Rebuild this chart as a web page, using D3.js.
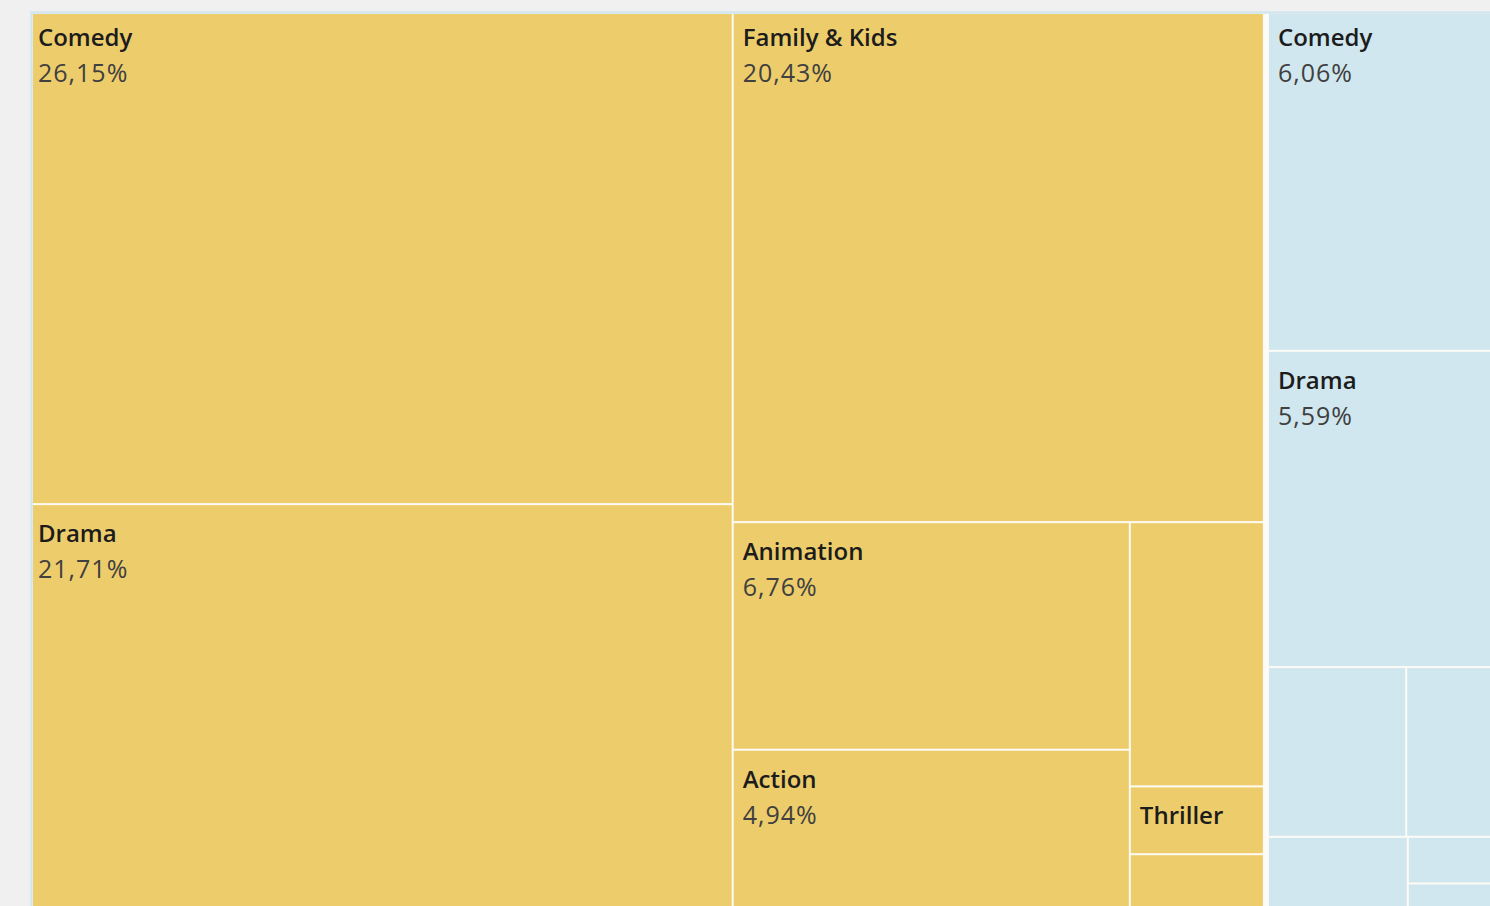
<!DOCTYPE html>
<html>
<head>
<meta charset="utf-8">
<script src="https://cdn.jsdelivr.net/npm/d3@7"></script>
<style>
  html, body { margin: 0; padding: 0; background: #f0f0f0; overflow: hidden; }
  svg { display: block; }
</style>
</head>
<body>
<svg id="chart" width="1490" height="906"></svg>
<script>
// Share of titles by genre (%), split by content type
const movieGenres = ["Comedy", "Drama", "Family & Kids", "Animation", "Action", "Documentary", "Thriller", "Science Fiction"];
const movieShares = [26.15, 21.71, 20.43, 6.76, 4.94, 2.65, 0.68, 0.62];

const showGenres = ["Comedy", "Drama", "Crime & Mystery", "Documentary", "Science Fiction", "Reality TV", "Stand-Up Comedy"];
const showShares = [6.06, 5.59, 1.78, 1.22, 0.84, 0.33, 0.23];

const typeNames = ["Movie", "TV Show"];
const typeColors = ["#edcd6b", "#d0e7ef"];

const svg = d3.select("#chart");

// Treemap frame: the view shows it from (33,14); the layout itself starts a little earlier
const frame = { x: 33, y: 14 };
const origin = { x: 29, y: 9 };
const size = [1471, 906];

const fmt = d3.formatLocale({ decimal: ",", thousands: ".", grouping: [3], currency: ["", "€"] }).format(".2f");

const data = {
  name: "all",
  children: [
    { name: typeNames[0], color: typeColors[0], children: movieGenres.map((g, i) => ({ name: g, value: movieShares[i] })) },
    { name: typeNames[1], color: typeColors[1], children: showGenres.map((g, i) => ({ name: g, value: showShares[i] })) }
  ]
};

const root = d3.hierarchy(data)
  .sum(d => d.value || 0)
  .sort((a, b) => b.value - a.value);

d3.treemap()
  .tile(d3.treemapSquarify)
  .size(size)
  .paddingInner(d => d.depth === 0 ? 6 : 2)
  .round(false)(root);

svg.append("defs").append("clipPath").attr("id", "view")
  .append("rect")
  .attr("x", frame.x).attr("y", frame.y)
  .attr("width", 1490 - frame.x).attr("height", 906 - frame.y);

// light frame edge
svg.append("rect")
  .attr("x", frame.x - 1.5).attr("y", frame.y - 1.5)
  .attr("width", 1490).attr("height", 906)
  .attr("fill", "none")
  .attr("stroke", "#d3e6ef")
  .attr("stroke-width", 2.5);

const g = svg.append("g").attr("clip-path", "url(#view)")
  .append("g").attr("transform", `translate(${origin.x},${origin.y})`);

// background shows through the padding as white divider lines
g.append("rect")
  .attr("x", 0).attr("y", 0)
  .attr("width", size[0]).attr("height", size[1])
  .attr("fill", "#fdfbf5");

const leaves = root.leaves();

const cell = g.selectAll("g.cell")
  .data(leaves)
  .join("g")
  .attr("class", "cell")
  .attr("transform", d => `translate(${d.x0},${d.y0})`);

cell.append("rect")
  .attr("width", d => d.x1 - d.x0)
  .attr("height", d => d.y1 - d.y0)
  .attr("fill", d => d.parent.data.color);

const padX = 9, nameBase = 37, valueBase = 73;
const font = "'Open Sans', Lato, sans-serif";

cell.each(function (d) {
  const w = d.x1 - d.x0, h = d.y1 - d.y0;
  const sel = d3.select(this);
  const name = sel.append("text")
    .attr("x", padX).attr("y", nameBase)
    .attr("font-family", font)
    .attr("font-size", 24)
    .attr("font-weight", 600)
    .attr("fill", "#1c1c1c")
    .text(d.data.name);
  const fitsName = name.node().getComputedTextLength() + padX + 4 <= w && nameBase + 7 <= h;
  if (!fitsName) { name.remove(); return; }
  if (valueBase + 7 <= h) {
    sel.append("text")
      .attr("x", padX).attr("y", valueBase)
      .attr("font-family", font)
      .attr("font-size", 25)
      .attr("font-weight", 400)
      .attr("letter-spacing", 1)
      .attr("fill", "#404040")
      .text(fmt(d.value) + "%");
  }
});
</script>
</body>
</html>
